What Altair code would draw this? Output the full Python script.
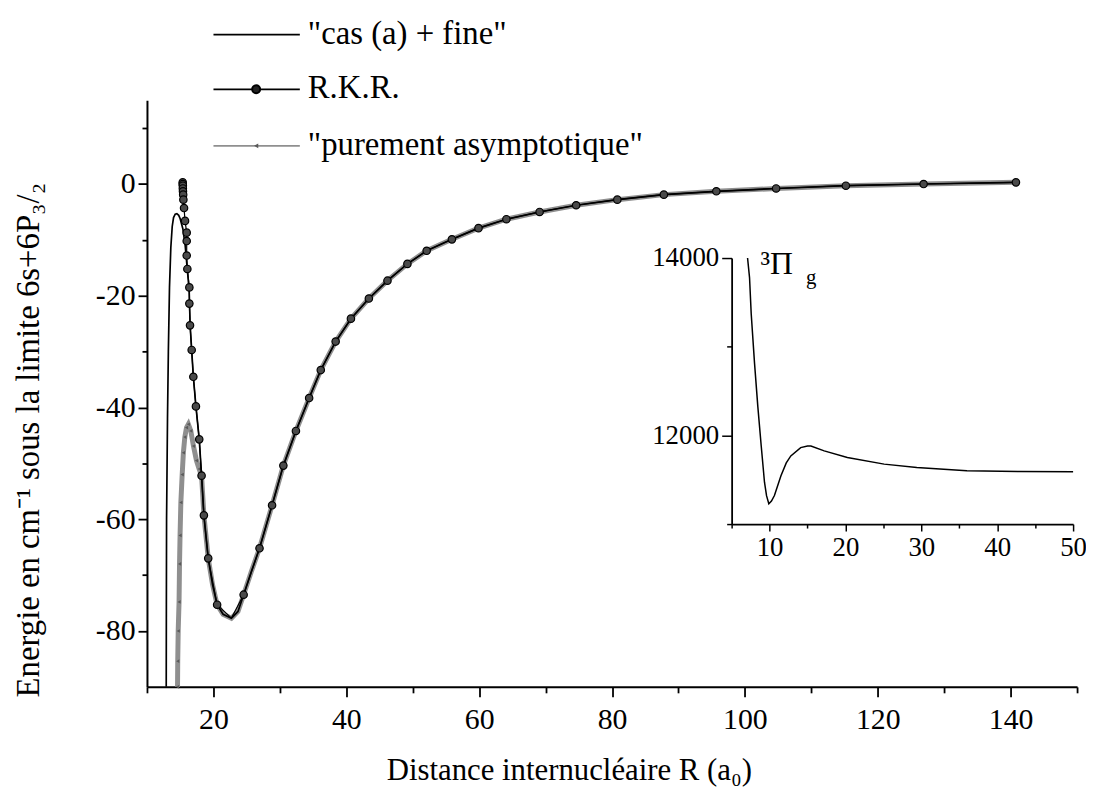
import altair as alt
import pandas as pd

# ---------------- data ----------------
SERIES = ['"cas (a) + fine"', 'R.K.R.', '"purement asymptotique"']

# inner part of the "cas (a) + fine" curve
CAS_INNER_X = [12.90, 12.92, 12.95, 13.09, 13.22, 13.39, 13.59, 13.80, 14.00, 14.25, 14.50,
               14.78, 15.00, 15.40, 15.75, 16.05, 16.35, 16.50, 16.73, 16.98, 17.37, 17.87]
CAS_INNER_Y = [-90.0, -75.0, -60.0, -42.0, -30.0, -18.5, -11.4, -7.6, -6.0, -5.4, -5.3,
               -5.6, -6.2, -8.0, -11.0, -15.0, -19.0, -25.3, -29.7, -34.5, -39.8, -45.7]

# inner part of the "purement asymptotique" curve
ASY_INNER_X = [14.60, 14.63, 14.70, 14.83, 14.90, 14.98, 15.10, 15.30, 15.48, 15.70, 15.95,
               16.23, 16.60, 17.00, 17.45, 17.85]
ASY_INNER_Y = [-90.0, -85.4, -80.0, -74.8, -68.0, -62.9, -57.0, -52.0, -48.1, -45.3, -43.6,
               -43.0, -44.2, -46.9, -49.5, -51.0]

# well + long range part (both curves overlap there)
WELL_X = [18.22, 18.57, 19.22, 19.87, 20.56, 21.46, 22.71, 23.70, 24.55, 25.70, 26.94, 28.83,
          30.53, 32.42, 34.41, 36.16, 38.40, 40.70, 43.40, 46.20, 49.20, 52.10, 55.90, 59.90,
          64.10, 69.10, 74.60, 80.80, 87.80, 95.70, 104.70, 115.20, 126.90, 140.80]
WELL_Y = [-52.2, -59.3, -67.0, -71.7, -75.3, -77.0, -77.7, -76.5, -73.5, -69.4, -65.2, -57.5,
          -50.4, -44.2, -38.3, -33.3, -28.2, -24.1, -20.5, -17.3, -14.3, -11.95, -9.9, -7.9,
          -6.3, -5.0, -3.8, -2.8, -1.9, -1.3, -0.8, -0.3, 0.0, 0.3]

# R.K.R. turning points
RKR_X = [15.38, 15.38, 15.40, 15.40, 15.42, 15.45, 15.48, 15.58, 15.73, 15.98, 15.98, 15.98,
         16.08, 16.38, 16.38, 16.48, 16.73, 16.98, 17.37, 17.87, 18.22, 18.57, 19.22, 20.56,
         24.55, 26.94, 28.83, 30.53, 32.42, 34.41, 36.16, 38.40, 40.70, 43.40, 46.20, 49.20,
         52.10, 55.90, 59.90, 64.10, 69.10, 74.60, 80.80, 87.80, 95.70, 104.70, 115.20,
         126.90, 140.80]
RKR_Y = [0.3, 0.0, -0.3, -0.8, -1.3, -1.9, -2.8, -4.3, -6.6, -8.7, -10.2, -12.8,
         -15.2, -18.5, -21.4, -25.3, -29.7, -34.5, -39.8, -45.7, -52.2, -59.3, -67.0, -75.3,
         -73.5, -65.2, -57.5, -50.4, -44.2, -38.3, -33.3, -28.2, -24.1, -20.5, -17.3, -14.3,
         -11.95, -9.9, -7.9, -6.3, -5.0, -3.8, -2.8, -1.9, -1.3, -0.8, -0.3, 0.0, 0.3]

# inset: 3Pi_g potential
INSET_X = [7.10, 7.36, 7.58, 8.02, 8.45, 8.90, 9.33, 9.60, 9.90, 10.25, 10.64, 11.50, 12.20,
           12.80, 14.10, 15.00, 15.45, 17.20, 20.25, 25.10, 29.40, 36.00, 43.00, 50.00]
INSET_Y = [14000, 13780, 13371, 12812, 12327, 11880, 11472, 11320, 11229, 11260, 11322, 11545,
           11690, 11769, 11862, 11880, 11880, 11825, 11750, 11676, 11639, 11601, 11592, 11590]

X_TICKS = list(range(10, 151, 10))
Y_TICKS = list(range(-80, 11, 10))
INSET_X_TICKS = list(range(5, 51, 5))
INSET_Y_TICKS = [11000, 12000, 13000, 14000]

# ---------------- tables ----------------
def frame(xs, ys):
    return pd.DataFrame({"x": xs, "y": ys, "i": range(len(xs))})

cas_df = frame(CAS_INNER_X + WELL_X, CAS_INNER_Y + WELL_Y)
asy_df = frame(ASY_INNER_X + WELL_X, ASY_INNER_Y + WELL_Y)
rkr_pts = frame(RKR_X, RKR_Y)
kmin = WELL_Y.index(min(WELL_Y))
split = RKR_X.index(24.55)
rkr_line = frame(RKR_X[:split] + [WELL_X[kmin]] + RKR_X[split:],
                 RKR_Y[:split] + [WELL_Y[kmin]] + RKR_Y[split:])
asy_marks = frame(ASY_INNER_X, ASY_INNER_Y)
inset_df = frame(INSET_X, INSET_Y)

FONT = "Liberation Serif"
W, H = 937, 591


def main_x_scale():
    return alt.Scale(domain=[10, 150], nice=False, zero=False)


def main_y_scale():
    return alt.Scale(domain=[-90, 15], nice=False, zero=False)


x_axis = alt.Axis(
    orient="bottom", values=X_TICKS,
    labelExpr="datum.value % 20 === 0 ? '' + datum.value : ''",
    tickSize={"condition": {"test": "datum.value % 20 === 0", "value": 10}, "value": 6},
    tickWidth=1.8, tickColor="black", domainColor="black", domainWidth=2,
    labelFont=FONT, labelFontSize=30, labelColor="black", labelPadding=8,
    labelOverlap=False, labelFlush=False, grid=False,
    title="Distance internucléaire R (a₀)", titleFont=FONT, titleFontSize=31,
    titleFontWeight="normal", titleColor="black", titleBaseline="middle",
    titleAlign="center", titleX=425, titleY=84,
)
y_axis = alt.Axis(
    orient="left", values=Y_TICKS,
    labelExpr="datum.value % 20 === 0 ? '' + datum.value : ''",
    tickSize={"condition": {"test": "datum.value % 20 === 0", "value": 9}, "value": 5},
    tickWidth=1.8, tickColor="black", domainColor="black", domainWidth=2,
    labelFont=FONT, labelFontSize=30, labelColor="black", labelPadding=3,
    labelOverlap=False, labelFlush=False, grid=False,
    title="Energie en cm⁻¹ sous la limite 6s+6P₃/₂", titleFont=FONT, titleFontSize=33,
    titleFontWeight="normal", titleColor="black", titleAngle=270,
    titleAlign="center", titleBaseline="middle", titleX=-119, titleY=342,
)


def enc(ch, first=False):
    return ch.encode(
        x=alt.X("x:Q", scale=main_x_scale(), axis=x_axis if first else None),
        y=alt.Y("y:Q", scale=main_y_scale(), axis=y_axis if first else None),
        order="i:Q",
    )


asy_line = enc(alt.Chart(asy_df).mark_line(color="#8f8f8f", strokeWidth=5), first=True)
asy_pts = enc(alt.Chart(asy_marks).mark_point(shape="triangle-left", size=14, filled=True,
                                               color="#5a5a5a", opacity=1))
cas_line = enc(alt.Chart(cas_df).mark_line(color="black", strokeWidth=1.7))
rkr_l = enc(alt.Chart(rkr_line).mark_line(color="black", strokeWidth=1.2))
rkr_p = enc(alt.Chart(rkr_pts).mark_point(shape="circle", size=56, filled=True,
                                            fill="#4a4a4a", stroke="black", strokeWidth=1.2,
                                            opacity=1))

# manual legend (pixel placement relative to the plot area)
one = alt.Data(values=[{}])
LEG_Y = [-66, -11, 46]
LEG_COL = ["black", "black", "#8f8f8f"]
legend_layers = []
for k, name in enumerate(SERIES):
    legend_layers.append(alt.Chart(one).mark_rule(color=LEG_COL[k], strokeWidth=1.8).encode(
        x=alt.value(67), x2=alt.value(154), y=alt.value(LEG_Y[k])))
    legend_layers.append(alt.Chart(one).mark_text(
        align="left", baseline="middle", font=FONT, fontSize=33, color="black").encode(
        x=alt.value(162), y=alt.value(LEG_Y[k] - 1), text=alt.value(name)))
legend_layers.append(alt.Chart(one).mark_point(shape="circle", size=64, filled=True,
                                               fill="#222", stroke="black", opacity=1).encode(
    x=alt.value(110), y=alt.value(LEG_Y[1])))
legend_layers.append(alt.Chart(one).mark_point(shape="triangle-left", size=24, filled=True,
                                               color="#5a5a5a", opacity=1).encode(
    x=alt.value(110), y=alt.value(LEG_Y[2])))

# inset
ix_axis = alt.Axis(
    orient="bottom", offset=-164, values=INSET_X_TICKS,
    labelExpr="datum.value % 10 === 0 ? '' + datum.value : ''",
    tickSize={"condition": {"test": "datum.value % 10 === 0", "value": 7}, "value": 4},
    tickWidth=1.5, tickColor="black", domainColor="black", domainWidth=1.8,
    labelFont=FONT, labelFontSize=27, labelColor="black", labelPadding=4,
    labelOverlap=False, labelFlush=False, grid=False, title=None,
)
iy_axis = alt.Axis(
    orient="left", offset=-589, values=INSET_Y_TICKS,
    labelExpr="datum.value % 2000 === 0 ? '' + datum.value : ''",
    tickSize={"condition": {"test": "datum.value % 2000 === 0", "value": 10}, "value": 5},
    tickWidth=1.5, tickColor="black", domainColor="black", domainWidth=1.8,
    labelFont=FONT, labelFontSize=27, labelColor="black", labelPadding=3,
    labelOverlap=False, labelFlush=False, grid=False, title=None,
)
inset_line = alt.Chart(inset_df).mark_line(color="black", strokeWidth=1.5).encode(
    x=alt.X("x:Q", scale=alt.Scale(domain=[5, 50], range=[589, 933], nice=False, zero=False),
            axis=ix_axis),
    y=alt.Y("y:Q", scale=alt.Scale(domain=[11000, 14000], range=[427, 159], nice=False,
                                   zero=False), axis=iy_axis),
    order="i:Q",
)
inset_title = alt.Chart(one).mark_text(align="left", baseline="alphabetic", font=FONT,
                                       fontSize=32, color="black").encode(
    x=alt.value(618), y=alt.value(175), text=alt.value("³Π"))
inset_sub = alt.Chart(one).mark_text(align="left", baseline="alphabetic", font=FONT,
                                     fontSize=21, color="black").encode(
    x=alt.value(664), y=alt.value(185), text=alt.value("g"))

chart = alt.layer(
    asy_line, asy_pts, cas_line, rkr_l, rkr_p, *legend_layers,
    inset_line, inset_title, inset_sub,
).resolve_scale(x="independent", y="independent").properties(
    width=W, height=H,
    autosize=alt.AutoSizeParams(type="none"),
    padding={"left": 140, "top": 90, "right": 9, "bottom": 100},
    background="white",
).configure_view(stroke=None)

chart.save("out.html", embed_options={"renderer": "svg", "actions": False})
